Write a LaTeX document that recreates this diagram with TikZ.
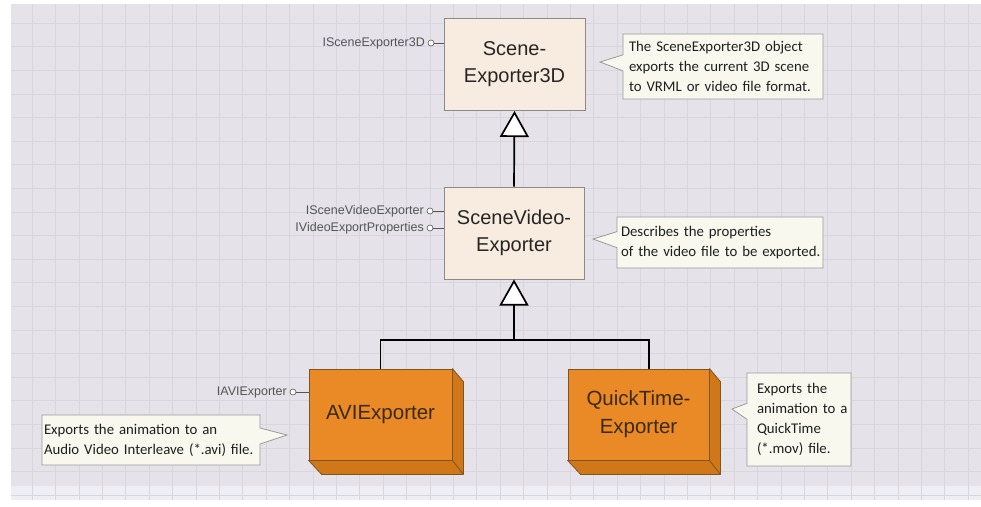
\documentclass[tikz,border=0pt]{standalone}
\usepackage{fontspec}
\setmainfont{Liberation Sans}
\newfontfamily\notefont{Carlito}
\usetikzlibrary{arrows.meta,shapes.callouts,calc}
\definecolor{bgc}{HTML}{E5E3E9}
\definecolor{bglight}{HTML}{EFEEF2}
\definecolor{gridc}{HTML}{D9D7DD}
\definecolor{boxfill}{HTML}{F8ECE0}
\definecolor{boxline}{HTML}{8A8A8A}
\definecolor{orangefront}{HTML}{E98A26}
\definecolor{orangeside}{HTML}{D07818}
\definecolor{orangeline}{HTML}{7D5424}
\definecolor{notefill}{HTML}{F8F8EF}
\definecolor{noteline}{HTML}{9A9A9A}
\definecolor{ifc}{HTML}{555555}
\definecolor{nodetext}{HTML}{3A2A12}
\tikzset{
 classbox/.style={draw=boxline, line width=1pt, fill=boxfill, minimum width=141pt, minimum height=92pt, align=center, font=\fontsize{20}{27}\selectfont, text=black!85, inner sep=0pt},
 nodebox/.style={draw=orangeline, line width=0.8pt, fill=orangefront, minimum height=91pt, align=center, font=\fontsize{20.5}{28}\selectfont, text=nodetext, inner sep=0pt},
 sideface/.style={draw=orangeline, line width=0.8pt, fill=orangeside, line join=round},
 note/.style={rectangle callout, draw=noteline, line width=0.8pt, fill=notefill, font=\notefont\fontsize{14.8}{20}\selectfont, text=black!88, align=left, inner ysep=0pt, callout pointer width=16pt},
 ifacelabel/.style={font=\fontsize{12.5}{14}\selectfont, text=ifc, anchor=east, inner sep=0pt},
 lolli/.style={circle, draw=ifc, fill=white, line width=0.6pt, minimum size=6pt, inner sep=0pt},
 lolliline/.style={draw=ifc, line width=0.6pt},
 conn/.style={line width=1.7pt},
 gen/.style={line width=1.7pt, -{Triangle[length=26pt,width=29pt,fill=white,line width=1.7pt]}},
}
\begin{document}
\begin{tikzpicture}[x=1pt,y=-1pt]
\useasboundingbox (0,0) rectangle (981,506);
\fill[white] (0,0) rectangle (981,506);
\fill[bgc] (11,4) rectangle (981,486);
\fill[bglight] (11,486) rectangle (981,500);
\foreach \i in {0,...,41} {\draw[gridc, line width=0.6pt] ({32+23.4*\i},4) -- ({32+23.4*\i},500);}
\foreach \j in {0,...,20} {\draw[gridc, line width=0.6pt] (11,{23+23.6*\j}) -- (981,{23+23.6*\j});}

% class boxes
\node[classbox] (se) at (514.5,64.5) {Scene-\\Exporter3D};
\node[classbox, minimum width=140pt] (sv) at (514,233) {SceneVideo-\\Exporter};

% 3D node boxes
\node[nodebox, minimum width=143pt] (avi) at (380.5,414.5) {AVIExporter};
\draw[sideface] (avi.north east) -- ++(11,13) -- ($(avi.south east)+(11,14)$) -- ($(avi.south west)+(13,14)$) -- (avi.south west) -- (avi.south east) -- cycle;
\draw[orangeline, line width=0.8pt] (avi.south east) -- ++(11,14);
\node[nodebox, minimum width=141pt] (qt) at (638.5,414.5) {QuickTime-\\Exporter};
\draw[sideface] (qt.north east) -- ++(11,13) -- ($(qt.south east)+(11,14)$) -- ($(qt.south west)+(13,14)$) -- (qt.south west) -- (qt.south east) -- cycle;
\draw[orangeline, line width=0.8pt] (qt.south east) -- ++(11,14);

% connectors
\coordinate (j) at (514,340);
\coordinate (qttop) at ($(qt.north)+(10.5,0)$);
\draw[conn] (avi.north) |- (j) -| (qttop);
\draw[gen] (j) -- (sv.south);
\draw[gen] (sv.north) -- (se.south);

% interfaces
\node[lolli] (l1) at (431,43) {};
\node[ifacelabel] (t1) at (425,43) {ISceneExporter3D};
\draw[lolliline] (l1) -- (l1 -| se.west);
\node[lolli] (l2) at (430,211) {};
\node[ifacelabel] (t2) at (424,211) {ISceneVideoExporter};
\draw[lolliline] (l2) -- (l2 -| sv.west);
\node[lolli] (l3) at (430,228) {};
\node[ifacelabel] (t3) at (424,228) {IVideoExportProperties};
\draw[lolliline] (l3) -- (l3 -| sv.west);
\node[lolli] (l4) at (293,392) {};
\node[ifacelabel] (t4) at (287,392) {IAVIExporter};
\draw[lolliline] (l4) -- (l4 -| avi.west);

% notes
\node[note, inner xsep=6pt, text width=188pt, minimum height=65pt, callout absolute pointer={(600,62)}] (n1) at (723,66.5) {\mbox{The SceneExporter3D object}\\\mbox{exports the current 3D scene}\\\mbox{to VRML or video file format.}};
\node[note, inner xsep=4pt, text width=198pt, minimum height=51pt, callout absolute pointer={(593,239)}] (n2) at (720,242.5) {\mbox{Describes the properties}\\\mbox{of the video file to be exported.}};
\node[note, inner xsep=2pt, text width=214pt, minimum height=50pt, callout absolute pointer={(287,435)}] (n3) at (151,440) {\mbox{Exports the animation to an}\\\mbox{Audio Video Interleave (*.avi) file.}};
\node[note, inner xsep=10pt, text width=84pt, minimum height=93pt, callout absolute pointer={(732,409)}] (n4) at (799,419.5) {\mbox{Exports the}\\\mbox{animation to a}\\\mbox{QuickTime}\\\mbox{(*.mov) file.}};
\end{tikzpicture}
\end{document}
